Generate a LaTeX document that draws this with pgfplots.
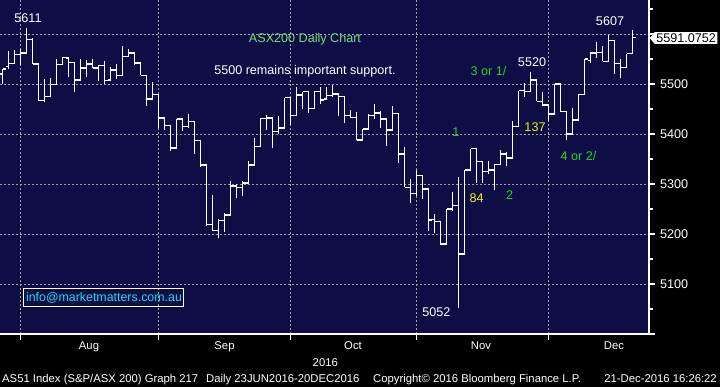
\documentclass[border=0pt]{standalone}
\usepackage{pgfplots}
\pgfplotsset{compat=1.18}
\usepackage{pgfplotstable}
\usepackage{fontspec}
\setmainfont{Liberation Sans}
\usetikzlibrary{shapes.symbols}
\definecolor{bgnavy}{RGB}{14,13,70}
\definecolor{gridgray}{RGB}{160,160,160}
\definecolor{palegreen}{RGB}{120,225,120}
\definecolor{brightgreen}{RGB}{34,215,34}
\definecolor{yel}{RGB}{240,240,30}
\definecolor{cyanish}{RGB}{30,220,235}

\pgfplotstableread{
i o h l c
-3 5520 5531 5500 5530
-2 5535 5565 5530 5541
-1 5541 5567 5539 5559
0 5559 5570 5539 5562
1 5562 5612 5562 5589
2 5589 5592 5540 5540
3 5540 5540 5465 5467
4 5467 5510 5465 5475
5 5475 5512 5475 5499
6 5499 5550 5499 5539
7 5539 5555 5538 5553
8 5552 5552 5515 5543
9 5543 5543 5485 5508
10 5508 5550 5508 5532
11 5532 5547 5513 5540
12 5540 5550 5532 5532
13 5532 5539 5507 5537
14 5537 5545 5500 5507
15 5508 5533 5505 5528
16 5528 5539 5509 5517
17 5517 5575 5517 5555
18 5555 5570 5555 5562
19 5562 5562 5538 5542
20 5542 5543 5517 5517
21 5517 5517 5455 5470
22 5470 5503 5470 5479
23 5479 5479 5413 5432
24 5432 5432 5409 5417
25 5417 5417 5365 5372
26 5372 5430 5372 5430
27 5430 5430 5407 5415
28 5415 5440 5412 5425
29 5425 5425 5360 5387
30 5387 5387 5335 5338
31 5338 5338 5217 5219
32 5219 5277 5205 5207
33 5207 5230 5192 5227
34 5227 5242 5203 5238
35 5238 5307 5238 5296
36 5296 5300 5273 5293
37 5293 5307 5277 5302
38 5302 5345 5302 5338
39 5338 5393 5338 5375
40 5375 5433 5375 5431
41 5431 5438 5408 5432
42 5432 5432 5373 5405
43 5405 5435 5400 5412
44 5412 5473 5412 5473
45 5473 5473 5419 5437
46 5437 5493 5437 5478
47 5478 5485 5450 5485
48 5485 5485 5441 5451
49 5451 5487 5451 5485
50 5485 5495 5460 5468
51 5470 5495 5468 5477
52 5477 5499 5475 5480
53 5480 5480 5435 5475
54 5475 5475 5421 5437
55 5437 5448 5432 5433
56 5433 5443 5388 5388
57 5388 5410 5388 5410
58 5410 5439 5410 5437
59 5437 5459 5430 5442
60 5442 5445 5412 5430
61 5430 5430 5377 5408
62 5408 5457 5408 5441
63 5441 5441 5341 5360
64 5360 5373 5293 5293
65 5293 5310 5261 5281
66 5281 5329 5277 5317
67 5317 5317 5271 5290
68 5290 5290 5207 5228
69 5229 5240 5201 5225
70 5225 5225 5179 5180
71 5180 5250 5180 5250
72 5250 5283 5245 5257
73 5257 5315 5052 5160
74 5160 5328 5158 5328
75 5328 5371 5328 5371
76 5371 5371 5303 5345
77 5345 5347 5303 5325
78 5325 5347 5320 5328
79 5328 5340 5288 5339
80 5339 5367 5339 5360
81 5360 5363 5335 5352
82 5352 5427 5352 5415
83 5415 5487 5415 5487
84 5487 5503 5475 5485
85 5485 5523 5483 5508
86 5508 5508 5465 5465
87 5465 5485 5457 5458
88 5458 5458 5427 5440
89 5440 5500 5440 5500
90 5500 5500 5445 5445
91 5445 5445 5387 5400
92 5400 5452 5400 5428
93 5428 5479 5428 5479
94 5479 5550 5479 5550
95 5547 5565 5543 5562
96 5562 5583 5552 5563
97 5563 5575 5545 5545
98 5545 5597 5545 5587
99 5587 5587 5521 5541
100 5541 5550 5512 5533
101 5533 5561 5533 5561
102 5561 5608 5561 5593
}\ohlc

\newcommand{\fA}{\fontsize{12.6}{14}\selectfont}
\newcommand{\fB}{\fontsize{11.3}{13}\selectfont}

\begin{document}
\begin{tikzpicture}[x=1pt,y=1pt]
\fill[black] (0pt,0pt) rectangle (720pt,387pt);
\path[use as bounding box] (0pt,0pt) rectangle (720pt,387pt);
\begin{axis}[
  at={(0pt,53pt)}, anchor=south west, scale only axis,
  width=649pt, height=334pt,
  xmin=-3.45, xmax=104.72, ymin=5000, ymax=5668,
  axis background/.style={fill=bgnavy},
  axis x line*=bottom, axis y line*=right,
  axis line style={white, line width=1.2pt},
  xtick={0,23,45,66,88}, xticklabels={},
  ytick={5000,5100,5200,5300,5400,5500,5600},
  yticklabels={,5100,5200,5300,5400,5500,},
  minor ytick={5050,5150,5250,5350,5450,5550,5650},
  tick align=outside, major tick length=6pt, minor tick length=4pt,
  tick style={white, line width=1.2pt},
  xmajorgrids, ymajorgrids,
  major grid style={gridgray, dash pattern=on 2pt off 2pt, line width=0.8pt},
  yticklabel style={text=white, font=\fA, anchor=west, inner sep=0pt, xshift=5pt},
  /pgf/number format/1000 sep={},
  /pgf/number format/assume math mode=true,
  clip=false,
]
% high-low
\addplot[draw=none, mark=none, forget plot,
  error bars/.cd, y dir=both, y explicit, error mark=none,
  error bar style={draw=white, line width=1.4pt}]
  table[x=i, y expr={(\thisrow{h}+\thisrow{l})/2}, y error expr={(\thisrow{h}-\thisrow{l})/2}] {\ohlc};
% open ticks
\addplot[draw=none, mark=none, forget plot,
  error bars/.cd, x dir=both, x fixed=0.24, error mark=none,
  error bar style={draw=white, line width=1.3pt}]
  table[x expr={\thisrow{i}-0.24}, y=o] {\ohlc};
% close ticks
\addplot[draw=none, mark=none, forget plot,
  error bars/.cd, x dir=both, x fixed=0.24, error mark=none,
  error bar style={draw=white, line width=1.3pt}]
  table[x expr={\thisrow{i}+0.24}, y=c] {\ohlc};

% annotations
\node[text=white, font=\fA] at (axis cs:1.22,5632) {5611};
\node[text=palegreen, font=\fA] at (axis cs:47.38,5590) {ASX200 Daily Chart};
\node[text=white, font=\fA] at (axis cs:47.38,5526) {5500 remains important support.};
\node[text=brightgreen, font=\fA] at (axis cs:77.97,5525) {3 or 1/};
\node[text=white, font=\fA] at (axis cs:85.22,5544) {5520};
\node[text=brightgreen, font=\fA] at (axis cs:72.55,5404) {1};
\node[text=yel, font=\fA] at (axis cs:85.72,5413) {137};
\node[text=brightgreen, font=\fA] at (axis cs:92.97,5356) {4 or 2/};
\node[text=yel, font=\fA] at (axis cs:75.97,5272) {84};
\node[text=brightgreen, font=\fA] at (axis cs:81.47,5278) {2};
\node[text=white, font=\fA] at (axis cs:69.27,5044) {5052};
\node[text=white, font=\fA] at (axis cs:98.22,5626) {5607};
\node[draw=white, line width=1pt, text=cyanish, font=\fontsize{12.4}{14}\selectfont,
  minimum width=160pt, minimum height=18.4pt, inner sep=0pt] at (axis cs:13.88,5073) {info@marketmatters.com.au};
\node[signal, signal to=west, signal pointer angle=100, fill=white, text=black, font=\fA,
  inner xsep=1.5pt, inner ysep=1.5pt, anchor=west] at (axis cs:104.8,5592) {5591.0752};
\end{axis}
% month labels
\node[text=white, font=\fB, anchor=base] at (89pt,37pt) {Aug};
\node[text=white, font=\fB, anchor=base] at (224.5pt,37pt) {Sep};
\node[text=white, font=\fB, anchor=base] at (353pt,37pt) {Oct};
\node[text=white, font=\fB, anchor=base] at (481pt,37pt) {Nov};
\node[text=white, font=\fB, anchor=base] at (614pt,37pt) {Dec};
\node[text=white, font=\fB, anchor=base] at (325.3pt,20.3pt) {2016};
% footer
\node[text=white, font=\fB, anchor=base west, inner sep=0pt] at (2pt,4.3pt) {AS51 Index (S\&P/ASX 200) Graph 217};
\node[text=white, font=\fB, anchor=base west, inner sep=0pt] at (206pt,4.3pt) {Daily 23JUN2016-20DEC2016};
\node[text=white, font=\fB, anchor=base west, inner sep=0pt] at (373pt,4.3pt) {Copyright© 2016 Bloomberg Finance L.P.};
\node[text=white, font=\fB, anchor=base east, inner sep=0pt] at (717pt,4.3pt) {21-Dec-2016 16:26:22};
\end{tikzpicture}
\end{document}
